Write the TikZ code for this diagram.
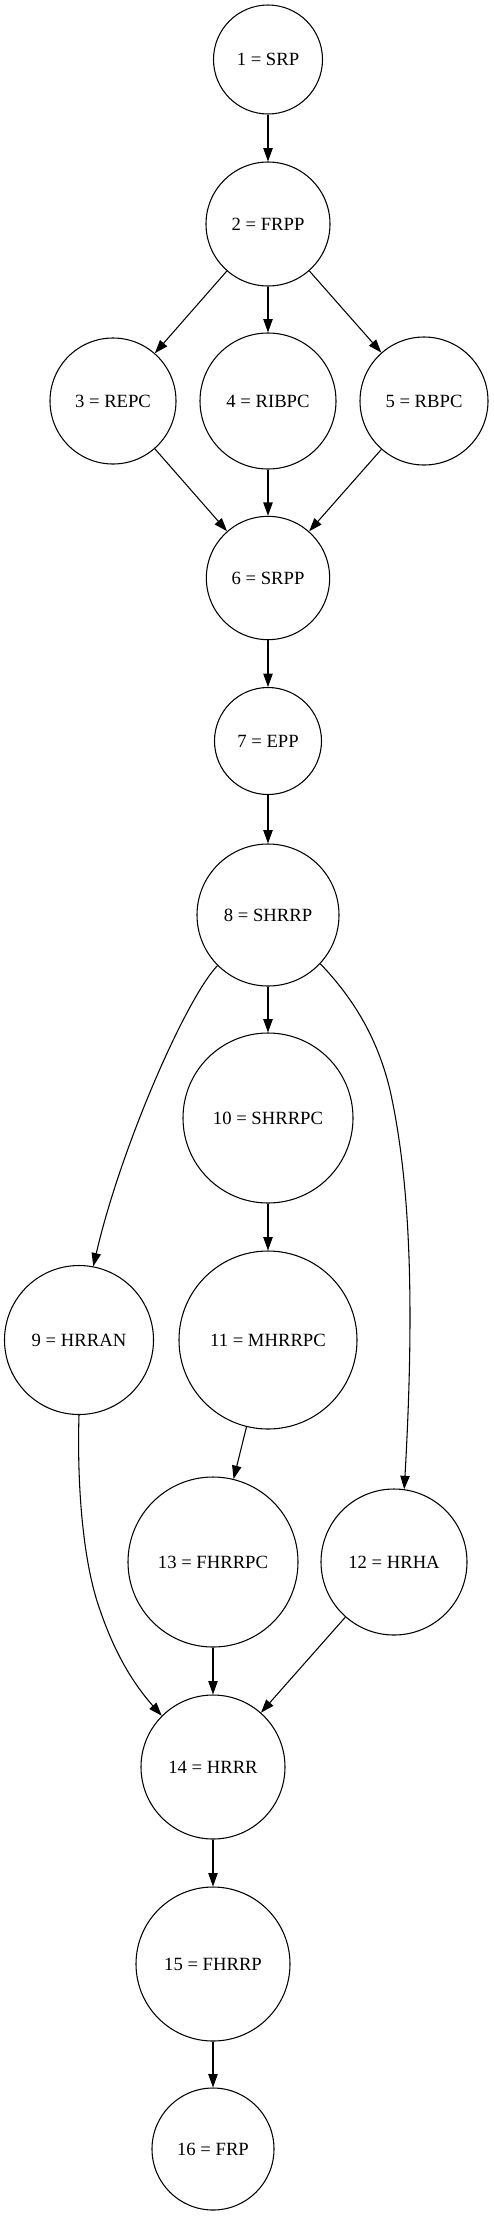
\documentclass[tikz,border=0pt]{standalone}
\usepackage{fontspec}
\setmainfont{Liberation Serif}
\usetikzlibrary{arrows.meta}
\begin{document}
\begin{tikzpicture}[x=0.75pt, y=-0.75pt, >={Triangle[length=10pt,width=7pt]},
  stage/.style={circle, draw, line width=0.8pt, inner sep=0pt, font=\fontsize{14}{16}\selectfont},
  edge/.style={->, line width=0.8pt}]
  \useasboundingbox (0,0) rectangle (493,2216);

  % stages
  \node[stage, minimum size=81.75pt] (n1) at (268,59.5) {1 = SRP};
  \node[stage, minimum size=93pt] (n2) at (268,224) {2 = FRPP};
  \node[stage, minimum size=94.5pt] (n3) at (113,401) {3 = REPC};
  \node[stage, minimum size=102pt] (n4) at (268,401) {4 = RIBPC};
  \node[stage, minimum size=96pt] (n5) at (424,401) {5 = RBPC};
  \node[stage, minimum size=92.5pt] (n6) at (268,578) {6 = SRPP};
  \node[stage, minimum size=80.25pt] (n7) at (268,741) {7 = EPP};
  \node[stage, minimum size=106.5pt] (n8) at (268,915) {8 = SHRRP};
  \node[stage, minimum size=111.75pt] (n9) at (79,1340) {9 = HRRAN};
  \node[stage, minimum size=127.5pt] (n10) at (268,1118) {10 = SHRRPC};
  \node[stage, minimum size=133.5pt] (n11) at (268,1340) {11 = MHRRPC};
  \node[stage, minimum size=109.5pt] (n12) at (394,1562) {12 = HRHA};
  \node[stage, minimum size=127.5pt] (n13) at (213,1562) {13 = FHRRPC};
  \node[stage, minimum size=108pt] (n14) at (213,1767) {14 = HRRR};
  \node[stage, minimum size=115.5pt] (n15) at (213,1964) {15 = FHRRP};
  \node[stage, minimum size=91.5pt] (n16) at (213,2149) {16 = FRP};

  % straight edges
  \draw[edge] (n1) -- (n2);
  \draw[edge] (n2) -- (n3);
  \draw[edge] (n2) -- (n4);
  \draw[edge] (n2) -- (n5);
  \draw[edge] (n3) -- (n6);
  \draw[edge] (n4) -- (n6);
  \draw[edge] (n5) -- (n6);
  \draw[edge] (n6) -- (n7);
  \draw[edge] (n7) -- (n8);
  \draw[edge] (n8) -- (n10);
  \draw[edge] (n10) -- (n11);
  \draw[edge] (n11) -- (n13);
  \draw[edge] (n13) -- (n14);
  \draw[edge] (n12) -- (n14);
  \draw[edge] (n14) -- (n15);
  \draw[edge] (n15) -- (n16);

  % curved edges
  \draw[edge] (n8.225) .. controls (185,1000) and (120,1150) .. (n9.79);
  \draw[edge] (n8.-43) .. controls (355,1000) and (378,1040) .. (390,1090)
    .. controls (410,1180) and (415,1300) .. (n12.82);
  \draw[edge] (n9.south) .. controls (77,1480) and (82,1560) .. (100,1610)
    .. controls (113,1648) and (130,1680) .. (n14.135);
\end{tikzpicture}
\end{document}
